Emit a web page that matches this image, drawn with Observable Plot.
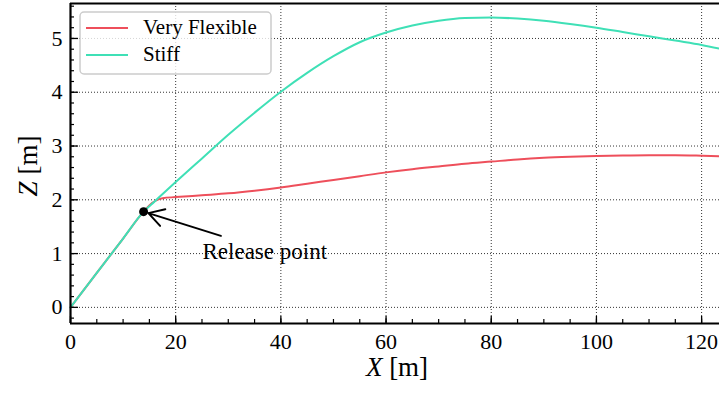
<!DOCTYPE html>
<html><head><meta charset="utf-8">
<script src="https://cdn.jsdelivr.net/npm/d3@7"></script>
<script src="https://cdn.jsdelivr.net/npm/@observablehq/plot@0.6"></script>
<style>
html,body{margin:0;padding:0;background:#fff;overflow:hidden}
</style></head><body><div id="chart"></div>
<script>
const seriesNames = ["Very Flexible", "Stiff"];
const seriesColors = ["#EE4F5B", "#3FE0B6"];

const flexX = [0, 5, 10, 13.9, 15.5, 16.5, 17.5, 20, 25, 30, 35, 40, 45, 50, 55, 60, 65, 70, 75, 80, 85, 90, 95, 100, 105, 110, 115, 120, 123.4];
const flexZ = [0, 0.64, 1.28, 1.78, 1.94, 2.0, 2.03, 2.05, 2.085, 2.12, 2.17, 2.23, 2.30, 2.37, 2.44, 2.51, 2.57, 2.62, 2.67, 2.71, 2.75, 2.78, 2.80, 2.815, 2.825, 2.83, 2.83, 2.82, 2.81];

const stiffX = [0, 5, 10, 13.9, 16, 20, 25, 30, 35, 40, 45, 50, 55, 60, 65, 70, 75, 80, 85, 90, 95, 100, 105, 110, 115, 120, 123.4];
const stiffZ = [0, 0.64, 1.28, 1.78, 1.97, 2.33, 2.77, 3.21, 3.62, 4.01, 4.36, 4.67, 4.93, 5.11, 5.24, 5.33, 5.38, 5.39, 5.37, 5.33, 5.27, 5.20, 5.12, 5.04, 4.96, 4.88, 4.81];

const releasePoint = [{x: 13.9, z: 1.78}];
const annotationLabel = "Release point";
const annotationAt = [{x: 25.1, z: 1.03}];
const arrowFrom = {x: 28.6, z: 1.33};

const xMajorTicks = [0, 20, 40, 60, 80, 100, 120];
const xMinorTicks = d3.range(0, 124, 5);
const yMajorTicks = [0, 1, 2, 3, 4, 5];
const yMinorTicks = d3.range(-1, 29).map(i => +(i * 0.2).toFixed(1));
const xDomain = [0, 123.4];
const yDomain = [-0.3, 5.65];
const xLabel = ["X", " [m]"];
const yLabel = ["Z", " [m]"];

const data = [
  ...flexX.map((x, i) => ({series: seriesNames[0], x, z: flexZ[i]})),
  ...stiffX.map((x, i) => ({series: seriesNames[1], x, z: stiffZ[i]}))
];
const arrows = [{x1: arrowFrom.x, y1: arrowFrom.z, x2: releasePoint[0].x, y2: releasePoint[0].z}];

const font = "Liberation Serif, Times New Roman, serif";
const gridStyle = {stroke: "black", strokeOpacity: 0.8, strokeDasharray: "1,2", strokeWidth: 1};
const axisFont = {fontFamily: font, fontSize: 22, fill: "black"};

const plot = Plot.plot({
  width: 719, height: 394,
  marginLeft: 70, marginRight: 0, marginTop: 3, marginBottom: 71,
  style: {fontFamily: font, fontSize: "22px", color: "black", background: "white", overflow: "visible"},
  x: {domain: xDomain},
  y: {domain: yDomain},
  color: {domain: seriesNames, range: seriesColors},
  marks: [
    Plot.gridX(xMajorTicks, gridStyle),
    Plot.gridY(yMajorTicks, gridStyle),
    Plot.line(data, {x: "x", y: "z", stroke: "series", strokeWidth: 2, curve: "monotone-x"}),
    Plot.dot(releasePoint, {x: "x", y: "z", r: 4.5, fill: "black"}),
    Plot.arrow(arrows, {x1: "x1", y1: "y1", x2: "x2", y2: "y2", stroke: "black", strokeWidth: 2, headLength: 13, insetEnd: 5}),
    Plot.text(annotationAt, {x: "x", y: "z", text: () => annotationLabel, textAnchor: "start", lineAnchor: "middle", fontSize: 23, fontFamily: font, fill: "black"}),
    Plot.axisX(xMajorTicks, {tickSize: -7, tickPadding: 17, strokeWidth: 1.3, label: null, tickFormat: d => String(d), ...axisFont}),
    Plot.axisX(xMinorTicks, {tickSize: -4, strokeWidth: 1.2, label: null, tickFormat: () => ""}),
    Plot.axisY(yMajorTicks, {tickSize: -8, tickPadding: 16, strokeWidth: 1.3, label: null, tickFormat: d => String(d), ...axisFont}),
    Plot.axisY(yMinorTicks, {tickSize: -4, strokeWidth: 1.2, label: null, tickFormat: () => ""}),
    Plot.ruleX([xDomain[0]], {stroke: "black", strokeWidth: 2.2}),
    Plot.ruleY(yDomain, {stroke: "black", strokeWidth: 2.2})
  ]
});
document.getElementById("chart").appendChild(plot);

const svg = d3.select(plot);
// axis labels
const xl = svg.append("text").attr("x", 397).attr("y", 376).attr("text-anchor", "middle")
  .attr("font-family", font).attr("font-size", 27).attr("fill", "black");
xl.append("tspan").attr("font-style", "italic").text(xLabel[0]);
xl.append("tspan").text(xLabel[1]);
const yl = svg.append("text").attr("transform", "translate(37,166) rotate(-90)").attr("text-anchor", "middle")
  .attr("font-family", font).attr("font-size", 27).attr("fill", "black");
yl.append("tspan").attr("font-style", "italic").text(yLabel[0]);
yl.append("tspan").text(yLabel[1]);

// legend
const lg = svg.append("g").attr("font-family", font).attr("font-size", 21).attr("text-anchor", "start");
lg.append("rect").attr("x", 80).attr("y", 12).attr("width", 191).attr("height", 62).attr("rx", 4)
  .attr("fill", "white").attr("fill-opacity", 0.8).attr("stroke", "#cccccc").attr("stroke-width", 1.5);
seriesNames.forEach((name, i) => {
  const y = 28 + i * 27;
  lg.append("line").attr("x1", 86).attr("x2", 128).attr("y1", y).attr("y2", y)
    .attr("stroke", seriesColors[i]).attr("stroke-width", 2);
  lg.append("text").attr("x", 143).attr("y", y + 6).attr("text-anchor", "start").attr("fill", "black").text(name);
});
</script></body></html>
